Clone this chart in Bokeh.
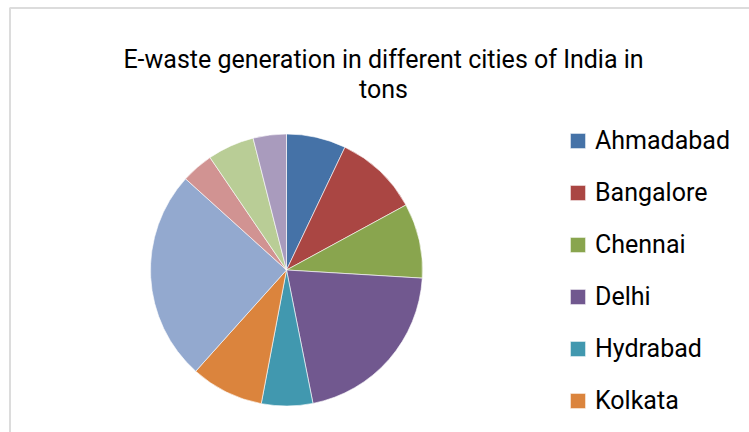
import numpy as np
from bokeh.plotting import figure
from bokeh.models import Range1d, Label, Legend, LegendItem, BoxAnnotation, ColumnDataSource
from bokeh.embed import file_html
from bokeh.resources import INLINE

# E-waste generated per city, in tons
cities = ["Ahmadabad", "Bangalore", "Chennai", "Delhi", "Hydrabad",
          "Kolkata", "Mumbai", "Nagpur", "Pune", "Surat"]
tons = [3287, 4648, 4132, 9730, 2833, 4025, 11650, 1768, 2584, 1836]
colors = ["#4572A7", "#AA4643", "#89A54E", "#71588F", "#4198AF",
          "#DB843D", "#93A9CF", "#D19392", "#B9CD96", "#A99BBD"]
legend_shown = 6  # only the first six entries fit below the title

W, H = 749, 432
FONT = "Roboto"

vals = np.array(tons, dtype=float)
frac = vals / vals.sum()
cum_end = np.cumsum(frac)
cum_start = cum_end - frac
# slices start at 12 o'clock and run clockwise
start = np.pi / 2 - cum_start * 2 * np.pi
end = np.pi / 2 - cum_end * 2 * np.pi

src = ColumnDataSource(dict(city=cities, tons=tons, color=colors,
                            start=start, end=end))

p = figure(width=W, height=H, output_backend="svg", toolbar_location=None,
           x_range=Range1d(0, W), y_range=Range1d(0, H),
           min_border=0, min_border_left=0, min_border_right=0,
           min_border_top=0, min_border_bottom=0)
p.axis.visible = False
p.grid.visible = False
p.outline_line_color = None
p.background_fill_color = "white"
p.border_fill_color = "white"

# chart area frame
p.add_layout(BoxAnnotation(left=9.5, right=W + 50, top=H - 7.5, bottom=-50,
                           fill_alpha=0, line_color="#8c8c8c", line_width=2))

cx, cy, r = 286, H - 269.5, 136
wedges = p.wedge(x=cx, y=cy, radius=r, start_angle="start", end_angle="end",
                 direction="clock", fill_color="color", line_color="white",
                 line_width=0.6, source=src)

# two-line title
p.add_layout(Label(x=383, y=H - 58.5, text="E-waste generation in different cities of India in",
                   text_align="center", text_baseline="alphabetic",
                   text_font=FONT, text_font_size="25px", text_color="black"))
p.add_layout(Label(x=383, y=H - 88.5, text="tons",
                   text_align="center", text_baseline="alphabetic",
                   text_font=FONT, text_font_size="25px", text_color="black"))

items = [LegendItem(label=cities[i], renderers=[wedges], index=i)
         for i in range(legend_shown)]
legend = Legend(items=items, location=(568, 17), orientation="vertical",
                glyph_width=19, glyph_height=19, label_standoff=8,
                label_text_font=FONT, label_text_font_size="25px",
                label_text_color="black", spacing=23, padding=0, margin=0,
                border_line_color=None, background_fill_alpha=0)
p.add_layout(legend, "center")

open("out.html", "w").write(file_html(p, INLINE))
